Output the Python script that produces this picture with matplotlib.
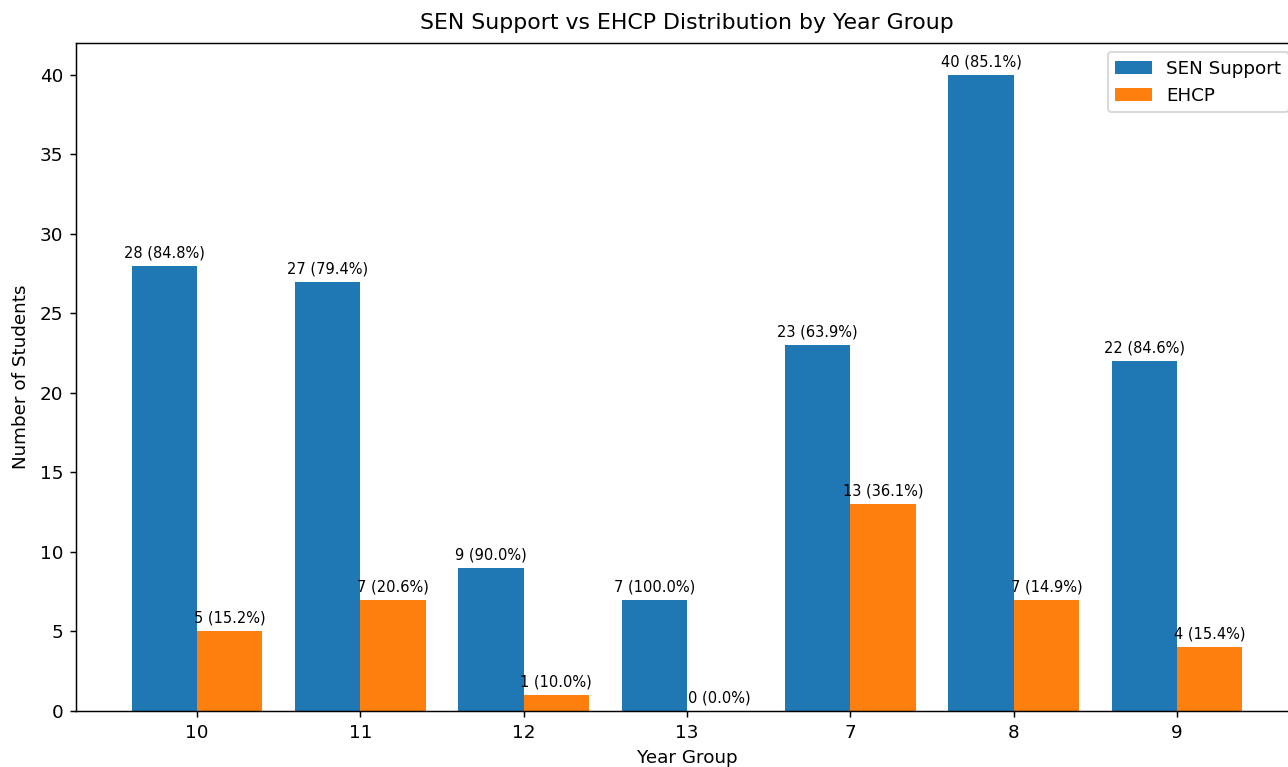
import matplotlib
matplotlib.use("Agg")
import matplotlib.pyplot as plt
import numpy as np

year_groups = ["10", "11", "12", "13", "7", "8", "9"]
sen_support = [28, 27, 9, 7, 23, 40, 22]
ehcp = [5, 7, 1, 0, 13, 7, 4]

W, H = 1288, 767
DPI = 132
fig = plt.figure(figsize=(W / DPI, H / DPI), dpi=DPI)
ax = fig.add_axes([76 / W, (H - 711) / H, (1298 - 76) / W, (711 - 43) / H])

x = np.arange(len(year_groups))
width = 0.4
b1 = ax.bar(x - width / 2, sen_support, width, label="SEN Support", color="#1f77b4")
b2 = ax.bar(x + width / 2, ehcp, width, label="EHCP", color="#ff7f0e")

totals = [s + e for s, e in zip(sen_support, ehcp)]
for bars, vals in ((b1, sen_support), (b2, ehcp)):
    for rect, v, t in zip(bars, vals, totals):
        pct = 100 * v / t if t else 0
        ax.annotate(f"{v} ({pct:.1f}%)",
                    xy=(rect.get_x() + rect.get_width() / 2, rect.get_height()),
                    xytext=(0, 3), textcoords="offset points",
                    ha="center", va="bottom", fontsize=8)

ax.set_xticks(x)
ax.set_xticklabels(year_groups)
ax.set_xlabel("Year Group")
ax.set_ylabel("Number of Students", labelpad=5)
ax.set_title("SEN Support vs EHCP Distribution by Year Group", pad=7.5)
ax.legend(loc="upper right")

fig.savefig("out.png", dpi=DPI)
